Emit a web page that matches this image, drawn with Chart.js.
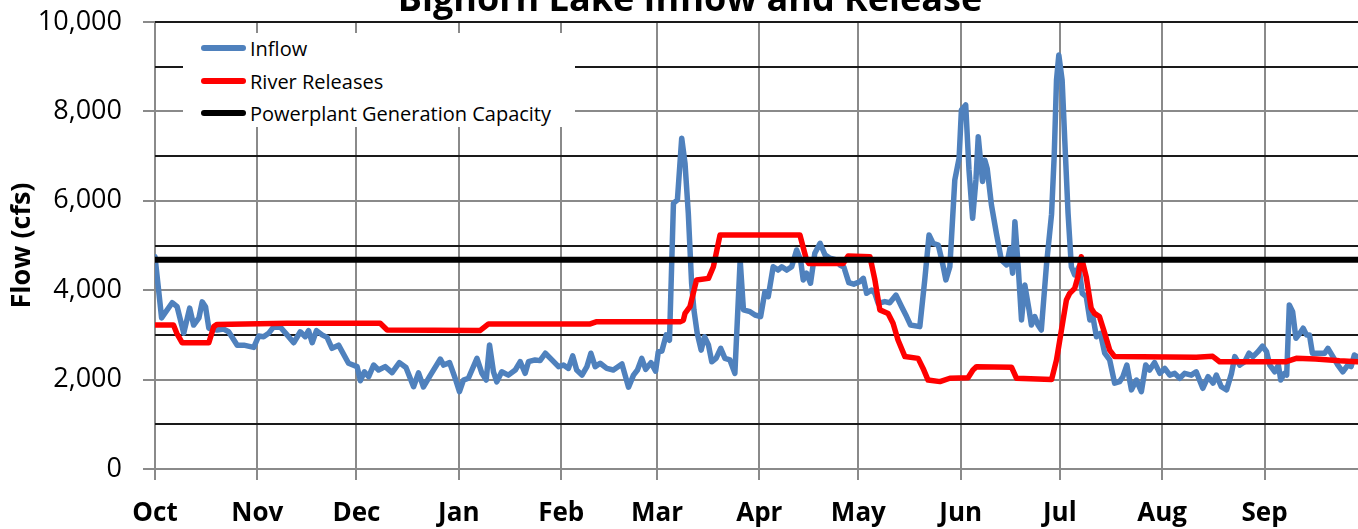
<!DOCTYPE html>
<html><head><meta charset="utf-8">
<script src="https://cdn.jsdelivr.net/npm/chart.js@4.4.1/dist/chart.umd.min.js"></script>
<style>
html,body{margin:0;padding:0;background:#fff;overflow:hidden;}
#wrap{position:relative;width:1358px;height:529px;overflow:hidden;}
canvas{position:absolute;left:0;top:0;}
#title{position:absolute;left:690px;transform:translateX(-50%);top:-20px;font-family:'Open Sans';font-weight:bold;font-size:36px;line-height:36px;white-space:nowrap;color:#000;}
#legend{position:absolute;left:183px;top:33px;width:392px;height:94px;background:#fff;font-family:'Open Sans';font-size:20px;color:#000;}
.item{position:absolute;left:18px;height:28px;display:flex;align-items:center;white-space:nowrap;}
.sw{width:45px;height:6px;border-radius:3px;margin-right:4px;}
</style></head>
<body>
<div id="wrap">
<canvas id="c" width="1358" height="529"></canvas>
<div id="title">Bighorn Lake Inflow and Release</div>
<div id="legend">
 <div class="item" style="top:1px"><div class="sw" style="background:#4F81BD"></div>Inflow</div>
 <div class="item" style="top:34px"><div class="sw" style="background:#FF0000"></div>River Releases</div>
 <div class="item" style="top:66px"><div class="sw" style="background:#000"></div>Powerplant Generation Capacity</div>
</div>
</div>
<script>
const monthLabels = ['Oct','Nov','Dec','Jan','Feb','Mar','Apr','May','Jun','Jul','Aug','Sep'];
const monthStartDays = [0,31,61,92,123,152,183,213,244,274,305,336];
const yTickLabels = ['0','2,000','4,000','6,000','8,000','10,000'];
const yGridValues = [0,1000,2000,3000,4000,5000,6000,7000,8000,9000,10000];

const inflowDays = [0,2,5.2,6.7,8.7,10.5,11.7,13.3,14.3,15.3,16.3,18.8,20.8,22.3,24.9,26.9,29.9,31.4,32.9,34.4,35.8,38,40,42,44,45.5,46.5,47.6,48.9,50.6,52.1,53.6,55.6,58.6,61.2,62.2,63.4,64.7,66.2,67.7,69.7,71.8,74,76,78.3,79.8,81.3,83.4,86.4,87.4,89.2,90.9,92.2,93.4,94.9,97.5,99,100.3,101.3,102.5,103.5,105,107,109.1,110.6,112.1,113.1,115.1,116.6,118.2,120.2,122.2,123.7,125.2,126.5,127.7,129.3,130.8,132,133.3,134.8,136.8,138.8,141.4,143.4,144.9,146.1,147.4,148.6,150.2,151.6,152.4,153.5,154.8,155.8,157,158.2,159.5,160.5,161.5,162.5,163.2,164.2,165.4,166.4,167.6,168.6,169.9,171.3,172.6,174.1,175.6,177.2,178.2,180.2,181.7,183.4,184.7,185.7,187.2,188.7,189.8,191.3,192.8,194.3,195.5,196.3,197.3,198.5,199.8,201.4,202.9,204.4,206.4,207.4,208.6,210.1,211.6,213.4,214.5,215.5,217,218,219,221,222.5,224.4,226.1,227.6,228.8,231.6,233.1,234.4,235.6,237.2,238.5,239.5,240.7,242.2,243.5,244.2,245.5,246.5,247.6,248.6,249.3,250.6,251.3,252,253.3,254.8,256.3,257.9,258.9,259.7,260.4,261.4,262.4,263.4,264.7,265.4,266.4,267.4,268.4,270,271.5,272.3,273,273.7,274.7,275.5,276.5,277.5,278.5,279.8,280.8,282,283.1,284,285.1,286.3,287.6,289.1,290.6,292.1,293.1,294.3,295.7,297.2,298.7,300,301.2,302.7,304.3,305.8,307.3,308.8,310.3,311.8,313.8,315.3,317.3,318.9,320.4,321.4,322.9,324.5,326,327,328.5,330,331.3,332.5,334,335.4,336.6,337.6,339.1,340.2,340.9,342,342.7,343.5,344.5,345.5,346.7,347.7,348.7,349.6,350.5,352.2,354.2,355.2,356.7,358.2,359.7,361.2,362.2,363.2,364];
const inflowCfs = [4750,3380,3720,3630,3040,3600,3220,3380,3740,3630,3150,3110,3130,3070,2770,2770,2720,2975,2960,3035,3170,3170,3000,2825,3070,2960,3095,2825,3095,3000,2945,2700,2770,2365,2290,1975,2175,2065,2325,2215,2290,2155,2380,2270,1840,2150,1835,2100,2460,2325,2380,2030,1730,1990,2030,2475,2140,1990,2775,2175,1950,2175,2100,2215,2400,2140,2400,2440,2425,2590,2440,2290,2325,2250,2530,2215,2100,2290,2590,2290,2365,2250,2215,2350,1830,2100,2215,2475,2230,2380,2190,2620,2640,3000,2880,5945,6020,7400,6840,5720,4155,3560,3035,2660,2960,2775,2400,2475,2700,2475,2440,2140,4675,3560,3520,3445,3410,3965,3855,4525,4450,4525,4450,4525,4900,4675,4230,4380,4155,4825,5050,4790,4715,4675,4565,4520,4170,4135,4190,4265,3930,4005,3930,3705,3745,3720,3890,3630,3410,3220,3185,4230,5235,5050,5010,4600,4230,4525,6465,6950,8030,8145,6690,5610,6465,7435,6430,6910,6725,5905,5270,4675,4565,4935,4380,5530,4525,3335,4115,3555,3220,3410,3220,3110,4600,5700,7000,8700,9260,8700,7360,5720,4525,4340,4525,3930,3855,3335,3410,2960,3035,2590,2440,1920,1955,2065,2325,1770,1990,1730,2325,2215,2380,2140,2250,2100,2140,2030,2140,2100,2175,1805,2065,1920,2100,1840,1770,2140,2515,2325,2400,2590,2515,2625,2750,2625,2325,2175,2325,1990,2140,2100,3670,3520,2925,3035,3150,3000,3000,2590,2590,2590,2700,2515,2325,2175,2325,2290,2550,2515];

const releaseDays = [0,5.6,6.6,8.2,16.3,17.8,18.8,40,68.2,70.3,98.5,101,131.8,133.8,159,160,160.5,162,164,167.6,169.1,171.1,195.3,197.3,198,208.4,209.9,216.5,218,219.5,222,223.5,225,227.1,231.1,232.6,234.1,237.7,240.7,246.2,247.7,248.8,259.4,260.9,271.5,273,275,276,277,278.5,279.5,280.5,282,283.5,284.5,286,287.6,289.1,290.6,315.3,320.3,322.4,342.6,345.6,351.5,358.7,364];
const releaseCfs = [3220,3220,3035,2825,2825,3185,3235,3260,3260,3110,3100,3245,3245,3295,3295,3330,3480,3630,4230,4265,4525,5235,5235,4675,4600,4600,4765,4750,4230,3560,3480,3260,2885,2515,2475,2250,1990,1955,2030,2040,2215,2290,2275,2030,2000,2440,3335,3780,3930,4040,4300,4750,4300,3595,3480,3410,3035,2660,2515,2500,2520,2400,2400,2475,2460,2420,2400];

const capacityDays = [0,366];
const capacityCfs = [4680,4680];

const toXY = (xs, ys) => xs.map((x, i) => ({x, y: ys[i]}));
const FONT = 'Open Sans';

new Chart(document.getElementById('c'), {
  type: 'line',
  data: {
    datasets: [
      {label:'Inflow', data: toXY(inflowDays, inflowCfs), borderColor:'#4F81BD', borderWidth:5.5, pointRadius:0, tension:0, borderJoinStyle:'round', borderCapStyle:'round', order:3},
      {label:'River Releases', data: toXY(releaseDays, releaseCfs), borderColor:'#FF0000', borderWidth:5.5, pointRadius:0, tension:0, borderJoinStyle:'round', borderCapStyle:'round', order:2},
      {label:'Powerplant Generation Capacity', data: toXY(capacityDays, capacityCfs), borderColor:'#000000', borderWidth:6, pointRadius:0, tension:0, order:1}
    ]
  },
  options: {
    responsive:false, animation:false, devicePixelRatio:1,
    layout:{padding:{top:22,right:0,bottom:0,left:0}},
    plugins:{legend:{display:false}, tooltip:{enabled:false}, title:{display:false}},
    scales:{
      x:{
        type:'linear', min:0, max:364.3,
        afterBuildTicks: s => { s.ticks = monthStartDays.map(v => ({value:v})); },
        afterFit: s => { s.height = 60; s.paddingLeft = 0; s.paddingRight = 0; },
        ticks:{autoSkip:false, maxRotation:0, minRotation:0, padding:18, color:'#000',
          font:{family:FONT, size:26, weight:'bold'},
          callback: v => { const i = monthStartDays.indexOf(v); return i >= 0 ? monthLabels[i] : ''; }},
        grid:{color:'#8a8a8a', lineWidth:2, tickLength:11, tickColor:'#8a8a8a'},
        border:{display:false}
      },
      y:{
        min:0, max:10000,
        afterBuildTicks: s => { s.ticks = yGridValues.map(v => ({value:v})); },
        afterFit: s => { s.width = 155; s.paddingTop = 0; s.paddingBottom = 0; },
        ticks:{padding:21, color:'#000', font:{family:FONT, size:27},
          callback: v => (v % 2000 === 0 ? yTickLabels[v / 2000] : '')},
        grid:{
          color: c => (c.tick && c.tick.value % 2000 !== 0) || (c.tick && c.tick.value === 10000) ? '#1a1a1a' : '#8a8a8a',
          lineWidth: 2, tickLength:12,
          tickColor: c => (c.tick && c.tick.value % 2000 === 0) ? '#8a8a8a' : 'rgba(0,0,0,0)'
        },
        border:{display:false},
        title:{display:true, text:'Flow (cfs)', color:'#000', font:{family:FONT, size:27, weight:'bold'}, padding:{top:6, bottom:0}}
      }
    }
  }
});
</script>
</body></html>
